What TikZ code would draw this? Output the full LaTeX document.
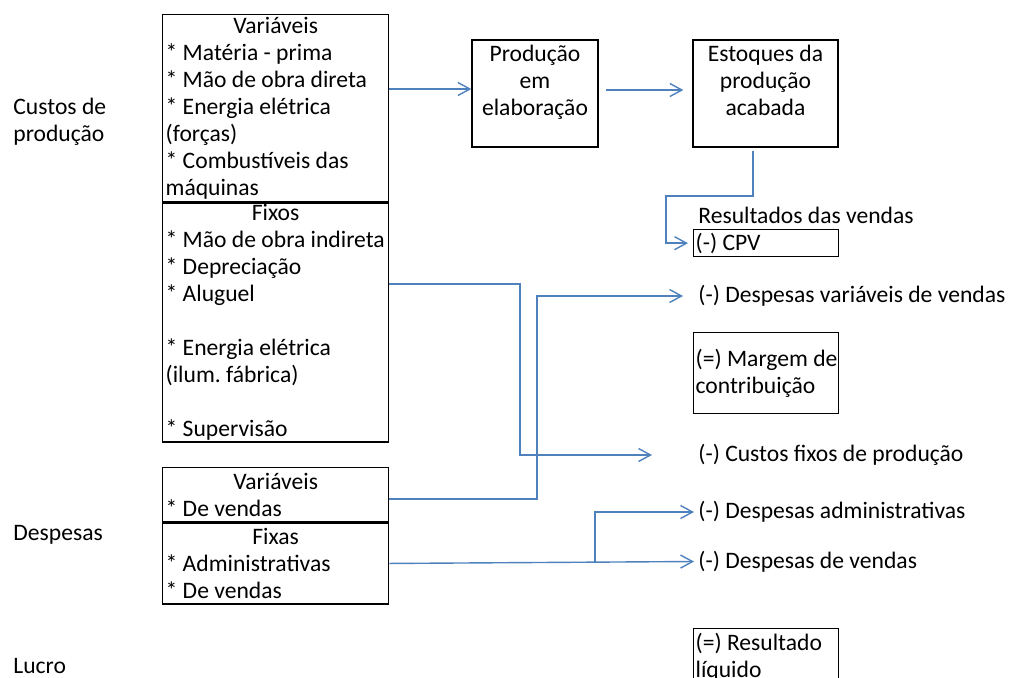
\documentclass[tikz,border=0pt]{standalone}
\usepackage{fontspec}
\setmainfont{Carlito}
\usetikzlibrary{arrows.meta}
\definecolor{flowblue}{RGB}{79,129,189}
\newcommand{\bul}{{*}~}
\setlength{\parindent}{0pt}
\frenchspacing

\begin{document}
\begin{tikzpicture}[x=0.5pt, y=-0.5pt, font=\fontsize{11.8}{13.5}\selectfont,
  cbox/.style={draw, line width=0.65pt, inner xsep=1.5pt, inner ysep=0pt, align=flush left, text width=110pt, anchor=north west},
  rbox/.style={cbox, inner xsep=1pt, text width=70.5pt},
  sbox/.style={draw, line width=0.65pt, inner sep=0pt, align=center, minimum height=53.5pt},
  lbl/.style={inner sep=2pt, align=left, anchor=west},
  flow/.style={draw=flowblue, line width=0.7pt, -{Straight Barb[length=6pt, width=6.5pt]}}]
  \useasboundingbox (0,0) rectangle (1009,677);
  \node[lbl] (lcp) at (9,121.5) {Custos de\\produção};
  \node[lbl] (ldp) at (9,535) {Despesas};
  \node[lbl] (llc) at (9,666) {Lucro};
  \node[cbox, minimum height=93.5pt] (cvar) at (162,14) {\makebox[\hsize]{Variáveis}\\\bul Matéria - prima\\\bul Mão de obra direta\\\bul Energia elétrica\\(forças)\\\bul Combustíveis das\\máquinas};
  \node[cbox, minimum height=119.5pt] (cfix) at (cvar.south west) {\makebox[\hsize]{Fixos}\\\bul Mão de obra indireta\\\bul Depreciação\\\bul Aluguel\\\mbox{}\\\bul Energia elétrica\\(ilum. fábrica)\\\mbox{}\\\bul Supervisão};
  \node[cbox, minimum height=27pt] (dvar) at (162,467) {\makebox[\hsize]{Variáveis}\\\bul De vendas};
  \node[cbox, minimum height=40.5pt] (dfix) at (dvar.south west) {\makebox[\hsize]{Fixas}\\\bul Administrativas\\\bul De vendas};
  \node[sbox, minimum width=63pt] (prod) at (535,93.5) {Produção\\em\\elaboração\\\mbox{}};
  \node[sbox, minimum width=72.5pt] (est) at (765.5,93.5) {Estoques da\\produção\\acabada\\\mbox{}};
  \node[lbl] (resv) at (694,215) {Resultados das vendas};
  \node[rbox, minimum height=13.5pt] (cpv) at (693,229) {(-) CPV};
  \node[rbox, minimum height=40.5pt] (marg) at (693,332) {\mbox{(=) Margem de}\\contribuição};
  \node[rbox, minimum height=40.5pt] (resl) at (693,628) {(=) Resultado\\líquido\\\mbox{}};
  \foreach \nm/\yy/\txt in {dvv/296/{(-) Despesas variáveis de vendas}, cfx/455/{(-) Custos fixos de produção}, dadm/512/{(-) Despesas administrativas}, dven/561.5/{(-) Despesas de vendas}}
    \node[lbl] (\nm) at (694,\yy) {\txt};
  \draw[flow] (cvar.east |- 0,89) -- (prod.west |- 0,89);
  \draw[flow, shorten <=3.5pt, shorten >=4.5pt] (prod.east |- 0,90) -- (est.west |- 0,90);
  \draw[flow, shorten >=2.5pt] ([xshift=-6.25pt, yshift=-1.5pt]est.south) |- (666,196) |- (cpv.west);
  \draw[flow, shorten >=21pt] (cfix.east |- 0,284) -| (520,455) -- (cfx.west);
  \draw[flow, shorten >=5.5pt] (dvar.east |- 0,499) -| (537,296) -- (dvv.west);
  \draw[flow] (dfix.east) -- (dven.west);
  \draw[flow] (dfix.east -| 595,0) |- (dadm.west);
\end{tikzpicture}
\end{document}
